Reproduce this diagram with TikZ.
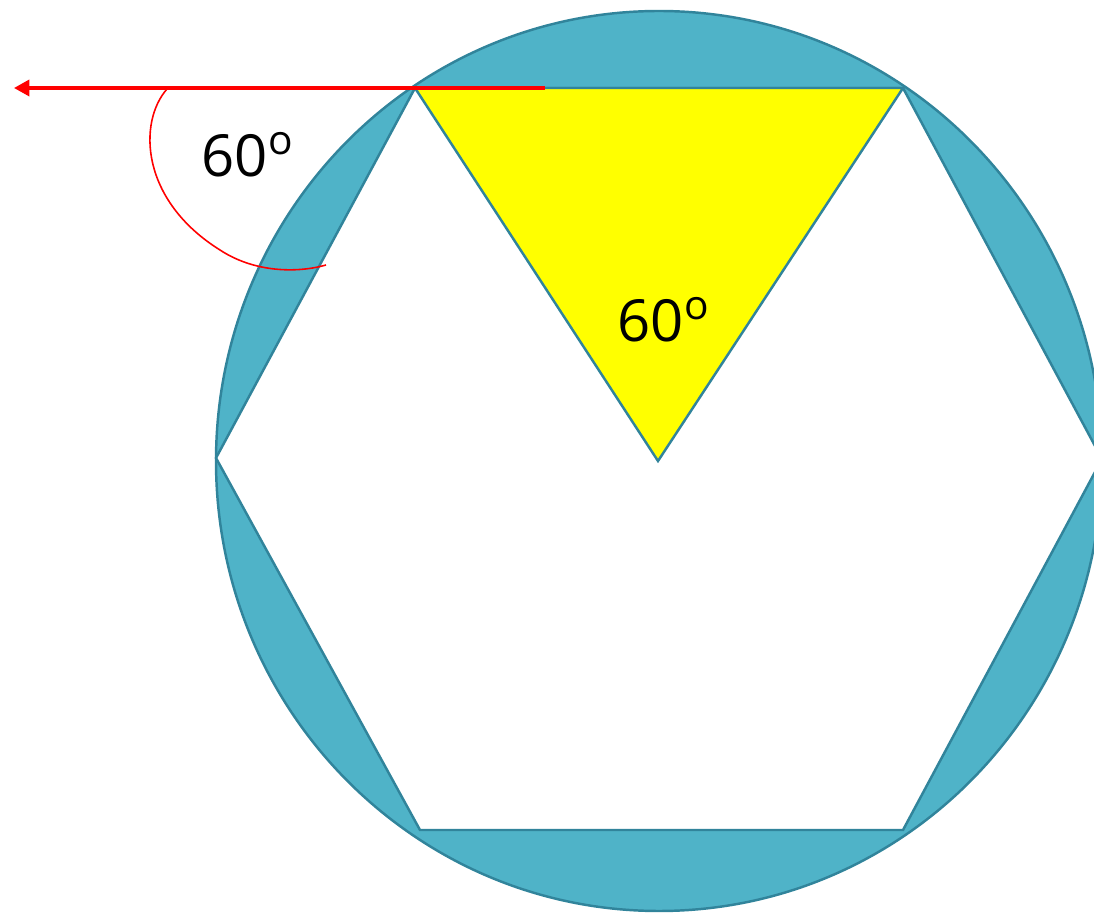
\documentclass[tikz,border=0pt]{standalone}
\usepackage{fontspec}
\setmainfont{Open Sans}
\usetikzlibrary{arrows.meta}
\definecolor{tealfill}{RGB}{79,179,200}
\definecolor{tealline}{RGB}{49,132,155}
\definecolor{pureyellow}{RGB}{255,255,0}
\definecolor{purered}{RGB}{255,0,0}
\tikzset{
  shape line/.style={draw=tealline, line width=0.7pt, line join=miter},
  angle label/.style={font=\fontsize{16.5}{18}\selectfont, inner sep=0pt},
  ray/.style={draw=purered, line width=0.95pt, -{Triangle[length=4.4pt,width=4.6pt]}},
  angle arc/.style={draw=purered, line width=0.45pt},
}
\begin{document}
\begin{tikzpicture}[x=0.01cm, y=-0.01cm]
\useasboundingbox (0,0) rectangle (1094,913);
\clip (0,0) rectangle (1094,913);
% circle
\filldraw[shape line, fill=tealfill] (659,461) ellipse [x radius=443, y radius=450];
% hexagon
\coordinate (A) at (415,88);
\coordinate (B) at (903,88);
\coordinate (C) at (1102,459);
\coordinate (D) at (903,830);
\coordinate (E) at (420,830);
\coordinate (F) at (216,458);
\coordinate (O) at (658,461);
\filldraw[shape line, fill=white] (A) -- (B) -- (C) -- (D) -- (E) -- (F) -- cycle;
% triangle
\filldraw[shape line, fill=pureyellow] (A) -- (B) -- (O) -- cycle;
% red ray
\coordinate (rs) at (545,88);
\coordinate (re) at (14,88);
\draw[ray] (rs) -- (re);
% angle arc
\coordinate (as) at (167,89);
\coordinate (am) at (220,250);
\coordinate (ae) at (326,265);
\draw[angle arc] (as) .. controls (138,122) and (140,200) .. (am) .. controls (255,273) and (298,273) .. (ae);
% labels
\node[angle label] (l1) at (248,155) {60\textsuperscript{o}};
\node[angle label] (l2) at (664,320) {60\textsuperscript{o}};
\end{tikzpicture}
\end{document}
